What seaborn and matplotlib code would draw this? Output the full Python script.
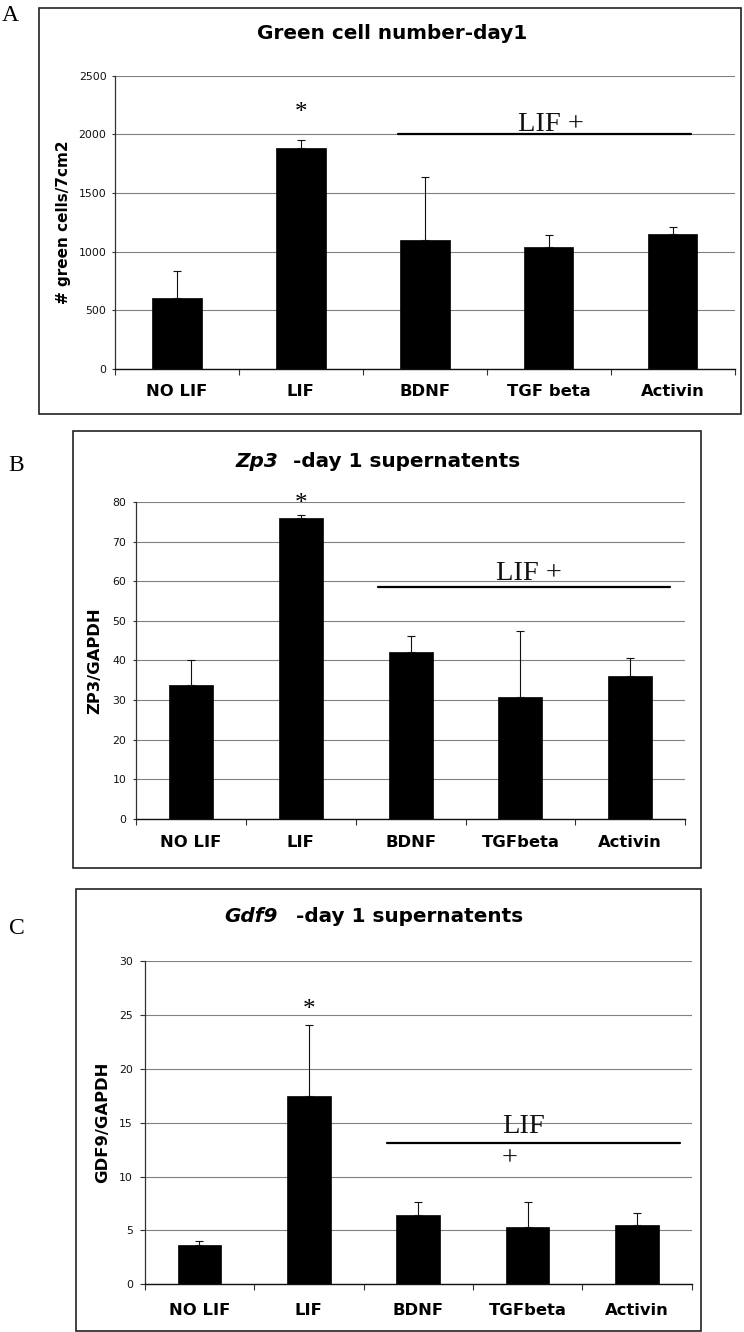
import numpy as np
import pandas as pd
import matplotlib
matplotlib.use("Agg")
import matplotlib.pyplot as plt
import seaborn as sns
from matplotlib.patches import Rectangle

sns.set_theme(style="white")
plt.rcParams['font.family'] = ['DejaVu Sans']
plt.rcParams['text.color'] = 'black'
plt.rcParams['axes.labelcolor'] = 'black'
plt.rcParams['xtick.color'] = 'black'
plt.rcParams['ytick.color'] = 'black'

# ---------------- data ----------------
cats_a = ["NO LIF", "LIF", "BDNF", "TGF beta", "Activin"]
cats_bc = ["NO LIF", "LIF", "BDNF", "TGFbeta", "Activin"]

green_mean = [603, 1880, 1101, 1038, 1152]
green_upper = [836, 1954, 1636, 1138, 1212]

zp3_mean = [33.8, 75.9, 42.0, 30.7, 36.0]
zp3_upper = [40.2, 76.6, 46.1, 47.3, 40.5]

gdf9_mean = [3.62, 17.46, 6.46, 5.29, 5.48]
gdf9_upper = [3.99, 24.08, 7.64, 7.64, 6.59]

W, H = 744, 1332
fig = plt.figure(figsize=(W / 100, H / 100), dpi=100)


def fx(x):
    return x / W


def fy(y):
    return 1 - y / H


def axes_rect(x0, y0, x1, y1):
    return [fx(x0), fy(y1), (x1 - x0) / W, (y1 - y0) / H]


SERIF = 'Liberation Serif'


def panel(cats, mean, upper, ymax, ystep, ylabel, cfg):
    ax = fig.add_axes(axes_rect(*cfg['axes']))
    n = len(cats)
    df = pd.DataFrame({"cond": cats, "value": mean})
    sns.barplot(data=df, x="cond", y="value", color="black", saturation=1,
                width=0.4, errorbar=None, edgecolor="black", linewidth=0.5,
                ax=ax, zorder=2)
    xs = np.arange(n)
    m = np.array(mean, dtype=float)
    u = np.array(upper, dtype=float)
    ax.errorbar(xs, m, yerr=[np.zeros(n), u - m], fmt='none', ecolor='#111111',
                elinewidth=0.8, capsize=3.2, capthick=0.8, zorder=3)
    ax.set_xlim(-0.5, n - 0.5)
    ax.set_ylim(0, ymax)
    ax.set_yticks(np.arange(0, ymax + ystep / 2, ystep))
    ax.yaxis.grid(True, color='#808080', lw=0.8)
    ax.xaxis.grid(False)
    ax.set_axisbelow(True)
    for s in ['top', 'right']:
        ax.spines[s].set_visible(False)
    ax.spines['left'].set_color('#333333')
    ax.spines['left'].set_linewidth(0.9)
    ax.spines['bottom'].set_color('#111111')
    ax.spines['bottom'].set_linewidth(1.0)
    ax.tick_params(axis='y', which='major', left=True, direction='out',
                   length=cfg['ytick_len'], width=0.8, color='#333333',
                   pad=cfg['ypad'], labelsize=7.8, labelcolor='#111111')
    ax.set_xticks(np.arange(-0.5, n, 1.0), minor=True)
    ax.tick_params(axis='x', which='minor', bottom=True, direction='out',
                   length=4, width=0.8, color='#333333')
    ax.tick_params(axis='x', which='major', bottom=True, length=0,
                   pad=cfg['xpad'], labelsize=11.8, labelcolor='black')
    ax.set_xticks(xs)
    ax.set_xticklabels(cats, fontweight='bold')
    ax.set_xlabel('')
    ax.set_ylabel(ylabel, fontsize=cfg['ylsize'], fontweight='bold',
                  color='black')
    ax.yaxis.set_label_coords(cfg['ylabel_x'], 0.5)
    ax.set_facecolor('white')
    # frame around the panel
    x0, y0, x1, y1 = cfg['frame']
    fig.add_artist(Rectangle((fx(x0), fy(y1)), (x1 - x0) / W, (y1 - y0) / H,
                             transform=fig.transFigure, fill=False,
                             lw=1.2, ec='#222222'))
    # panel letter
    lx, ly = cfg['letter_xy']
    fig.text(fx(lx), fy(ly), cfg['letter'], family=SERIF, fontsize=17,
             ha='left', va='baseline', color='black')
    return ax


# ---------------- Panel A ----------------
axA = panel(cats_a, green_mean, green_upper, 2500, 500, "# green cells/7cm2",
            dict(axes=(115, 75.7, 734.5, 368.7), frame=(39.3, 8.3, 741, 414.3),
                 ytick_len=2.3, ypad=3.8, xpad=11.2, ylsize=11,
                 ylabel_x=(71 - 115) / 619.5, letter='A', letter_xy=(2, 20.7)))
fig.text(fx(391.8), fy(39.3), "Green cell number-day1", fontsize=14.4,
         fontweight='bold', ha='center', va='baseline', color='black')
axA.text(1, 2130, "*", family=SERIF, fontsize=18, ha='center', va='baseline',
         clip_on=False)
axA.plot([1.784, 4.149], [2000, 2000], color='black', lw=1.6, zorder=4,
         clip_on=False)
axA.text(3.02, 2031, "LIF +", family=SERIF, fontsize=20.5, ha='center',
         va='baseline', color='#111111')

# ---------------- Panel B ----------------
axB = panel(cats_bc, zp3_mean, zp3_upper, 80, 10, "ZP3/GAPDH",
            dict(axes=(136.3, 502, 685, 818.7), frame=(72.7, 431, 701, 867.7),
                 ytick_len=2.3, ypad=4.8, xpad=12, ylsize=11.8,
                 ylabel_x=(102.7 - 136.3) / 548.7, letter='B',
                 letter_xy=(8.5, 470.7)))
fig.text(fx(278), fy(466.7), "Zp3", fontsize=14.4, fontweight='bold',
         style='italic', ha='right', va='baseline', color='black')
fig.text(fx(293), fy(466.7), "-day 1 supernatents", fontsize=14.4,
         fontweight='bold', ha='left', va='baseline', color='black')
axB.text(1, 78.0, "*", family=SERIF, fontsize=18, ha='center', va='baseline',
         clip_on=False)
axB.plot([1.70, 4.365], [58.6, 58.6], color='black', lw=1.6, zorder=4)
axB.text(3.08, 60.3, "LIF +", family=SERIF, fontsize=20.5, ha='center',
         va='baseline', color='#111111')

# ---------------- Panel C ----------------
axC = panel(cats_bc, gdf9_mean, gdf9_upper, 30, 5, "GDF9/GAPDH",
            dict(axes=(144.7, 961.3, 691.7, 1284.3), frame=(75.7, 889, 701, 1330.5),
                 ytick_len=3.3, ypad=5.2, xpad=13.5, ylsize=11.8,
                 ylabel_x=(110 - 144.7) / 547, letter='C',
                 letter_xy=(8.5, 934)))
fig.text(fx(278), fy(922.3), "Gdf9", fontsize=14.4, fontweight='bold',
         style='italic', ha='right', va='baseline', color='black')
fig.text(fx(295.7), fy(922.3), "-day 1 supernatents", fontsize=14.4,
         fontweight='bold', ha='left', va='baseline', color='black')
axC.text(1, 24.95, "*", family=SERIF, fontsize=18, ha='center', va='baseline',
         clip_on=False)
axC.plot([1.712, 4.393], [13.12, 13.12], color='black', lw=1.6, zorder=4)
axC.text(2.96, 14.08, "LIF", family=SERIF, fontsize=20.5, ha='center',
         va='baseline', color='#111111')
axC.text(2.84, 11.08, "+", family=SERIF, fontsize=20.5, ha='center',
         va='baseline', color='#111111')

fig.savefig("out.png", dpi=100, facecolor='white')
